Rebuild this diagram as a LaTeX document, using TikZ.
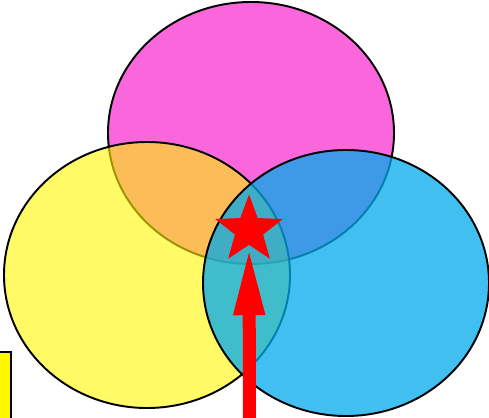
\documentclass[tikz,border=0pt]{standalone}
\usepackage{tikz}
\usetikzlibrary{shapes.geometric,arrows.meta}
\definecolor{mymagenta}{RGB}{247,0,197}
\definecolor{myyellow}{RGB}{255,247,0}
\definecolor{mycyan}{RGB}{0,170,235}
\definecolor{myred}{RGB}{255,0,0}

\begin{document}
\begin{tikzpicture}[x=0.02cm,y=-0.02cm,
  conjunto/.style={draw=black, line width=1.1pt, fill opacity=0.6},
  seta/.style={draw=myred, line width=0.26cm, -{Triangle[length=1.4cm,width=0.56cm]}}]
\useasboundingbox (0,0) rectangle (489,418);

% caixa amarela na borda
\draw[fill=myyellow, draw=black, line width=1.4pt] (-20,352) rectangle (11,440);

% conjunto de cima
\draw[conjunto, fill=mymagenta] (251,133) ellipse (143 and 131);

% conjunto da esquerda
\draw[conjunto, fill=myyellow] (147,275) ellipse (143 and 133);

% conjunto da direita
\draw[conjunto, fill=mycyan, fill opacity=0.75] (346,283) ellipse (143 and 133);

% estrela na intersecção
\node[star, star points=5, star point ratio=2.4, minimum size=1.42cm,
  inner sep=0pt, fill=myred] (estrela) at (249,230) {};

% seta até a estrela
\coordinate (base) at (249.5,430);
\draw[seta] (base) -- (estrela);

\end{tikzpicture}
\end{document}
